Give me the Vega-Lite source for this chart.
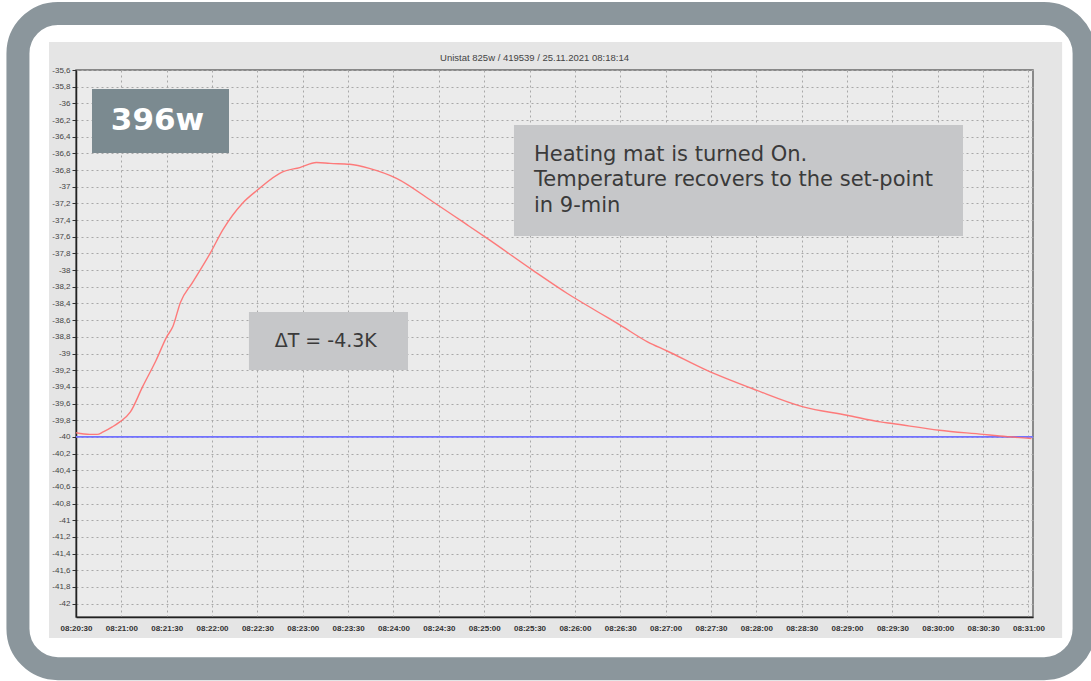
{
  "$schema": "https://vega.github.io/schema/vega-lite/v6.json",
  "width": 957,
  "height": 547,
  "autosize": "none",
  "padding": {"left": 76, "top": 70, "right": 58, "bottom": 64},
  "background": "#e5e5e5",
  "data": {"values": [{}]},
  "layer": [
    {
      "mark": {"type": "rect", "clip": false, "fillOpacity": 0, "stroke": "#ffffff", "strokeWidth": 40},
      "encoding": {
        "x": {"datum": 29979.73, "type": "quantitative"},
        "x2": {"datum": 30701.4},
        "y": {"datum": -34.76, "type": "quantitative"},
        "y2": {"datum": -42.928}
      }
    },
    {
      "mark": {"type": "rect", "clip": false, "fillOpacity": 0, "stroke": "#ffffff", "strokeWidth": 24},
      "encoding": {
        "x": {"datum": 30004.2, "type": "quantitative"},
        "x2": {"datum": 30690.2},
        "y": {"datum": -35.12, "type": "quantitative"},
        "y2": {"datum": -42.556}
      }
    },
    {
      "mark": {"type": "rect", "clip": false, "fillOpacity": 0, "stroke": "#8b969c", "strokeWidth": 23, "cornerRadius": 40},
      "encoding": {
        "x": {"datum": 29991.6, "type": "quantitative"},
        "x2": {"datum": 30696.8},
        "y": {"datum": -34.922, "type": "quantitative"},
        "y2": {"datum": -42.78}
      }
    },
    {
      "mark": {"type": "text", "clip": false, "text": "Unistat 825w / 419539 / 25.11.2021 08:18:14", "font": "Liberation Sans", "fontSize": 9.5, "color": "#444444", "align": "center", "baseline": "alphabetic"},
      "encoding": {
        "x": {"datum": 30333.3, "type": "quantitative"},
        "y": {"datum": -35.492, "type": "quantitative"}
      }
    },
    {
      "data": {"values": [
        {"sec": 30030, "setpoint": -40},
        {"sec": 30663, "setpoint": -40}
      ]},
      "mark": {"type": "line", "color": "#7272ff", "strokeWidth": 1.6},
      "encoding": {
        "x": {"field": "sec", "type": "quantitative"},
        "y": {"field": "setpoint", "type": "quantitative"}
      }
    },
    {
      "data": {"values": [
        {"sec": 30030, "temp": -39.95},
        {"sec": 30039, "temp": -39.97},
        {"sec": 30044, "temp": -39.97},
        {"sec": 30048, "temp": -39.94},
        {"sec": 30054, "temp": -39.88},
        {"sec": 30059, "temp": -39.82},
        {"sec": 30066, "temp": -39.70},
        {"sec": 30074, "temp": -39.40},
        {"sec": 30083, "temp": -39.08},
        {"sec": 30090, "temp": -38.80},
        {"sec": 30094, "temp": -38.68},
        {"sec": 30099, "temp": -38.39},
        {"sec": 30107, "temp": -38.15},
        {"sec": 30119, "temp": -37.79},
        {"sec": 30127, "temp": -37.52},
        {"sec": 30140, "temp": -37.20},
        {"sec": 30150, "temp": -37.04},
        {"sec": 30167, "temp": -36.82},
        {"sec": 30178, "temp": -36.77},
        {"sec": 30189, "temp": -36.71},
        {"sec": 30198, "temp": -36.72},
        {"sec": 30211, "temp": -36.73},
        {"sec": 30224, "temp": -36.78},
        {"sec": 30242, "temp": -36.90},
        {"sec": 30266, "temp": -37.18},
        {"sec": 30289, "temp": -37.46},
        {"sec": 30302, "temp": -37.62},
        {"sec": 30332, "temp": -38.00},
        {"sec": 30355, "temp": -38.28},
        {"sec": 30377, "temp": -38.52},
        {"sec": 30390, "temp": -38.66},
        {"sec": 30408, "temp": -38.86},
        {"sec": 30421, "temp": -38.97},
        {"sec": 30447, "temp": -39.20},
        {"sec": 30480, "temp": -39.44},
        {"sec": 30511, "temp": -39.64},
        {"sec": 30540, "temp": -39.74},
        {"sec": 30562, "temp": -39.82},
        {"sec": 30570, "temp": -39.84},
        {"sec": 30601, "temp": -39.92},
        {"sec": 30630, "temp": -39.97},
        {"sec": 30641, "temp": -39.99},
        {"sec": 30662, "temp": -40.02}
      ]},
      "mark": {"type": "line", "color": "#ff6e6e", "strokeWidth": 1.4, "interpolate": "monotone", "opacity": 0.9},
      "encoding": {
        "x": {
          "field": "sec", "type": "quantitative", "title": null,
          "scale": {"domain": [30030, 30663], "nice": false, "zero": false},
          "axis": {
            "values": [30030, 30060, 30090, 30120, 30150, 30180, 30210, 30240, 30270, 30300, 30330, 30360, 30390, 30420, 30450, 30480, 30510, 30540, 30570, 30600, 30630, 30660],
            "tickCount": 40,
            "labelExpr": "utcFormat(datum.value * 1000, '%H:%M:%S')",
            "labelFlush": false,
            "labelOverlap": false,
            "labelFont": "Liberation Sans",
            "labelFontSize": 8,
            "labelFontWeight": "bold",
            "labelColor": "#333333",
            "labelPadding": 7,
            "ticks": false,
            "domainColor": "#222222",
            "domainWidth": 1.5,
            "grid": true,
            "gridColor": "#a8a8a8",
            "gridDash": [2, 3],
            "gridWidth": 1
          }
        },
        "y": {
          "field": "temp", "type": "quantitative", "title": null,
          "scale": {"domain": [-42.16, -35.6], "nice": false, "zero": false},
          "axis": {
            "values": [-35.6, -35.8, -36, -36.2, -36.4, -36.6, -36.8, -37, -37.2, -37.4, -37.6, -37.8, -38, -38.2, -38.4, -38.6, -38.8, -39, -39.2, -39.4, -39.6, -39.8, -40, -40.2, -40.4, -40.6, -40.8, -41, -41.2, -41.4, -41.6, -41.8, -42],
            "tickCount": 40,
            "labelExpr": "'-' + replace(format(abs(datum.value), '~g'), '.', ',')",
            "labelOverlap": false,
            "labelFont": "Liberation Sans",
            "labelFontSize": 8,
            "labelColor": "#444444",
            "labelPadding": 2,
            "tickSize": 4,
            "tickColor": "#333333",
            "domainColor": "#222222",
            "domainWidth": 1.5,
            "grid": true,
            "gridColor": "#a8a8a8",
            "gridDash": [2, 3],
            "gridWidth": 1
          }
        }
      }
    },
    {
      "mark": {"type": "rect", "color": "#7b8a90"},
      "encoding": {
        "x": {"datum": 30040.58, "type": "quantitative"},
        "x2": {"datum": 30131.2},
        "y": {"datum": -35.828, "type": "quantitative"},
        "y2": {"datum": -36.595}
      }
    },
    {
      "mark": {"type": "text", "text": "396w", "font": "DejaVu Sans", "fontSize": 31, "fontWeight": "bold", "color": "#ffffff", "align": "center", "baseline": "middle"},
      "encoding": {
        "x": {"datum": 30083.9, "type": "quantitative"},
        "y": {"datum": -36.212, "type": "quantitative"}
      }
    },
    {
      "mark": {"type": "rect", "color": "#c6c7c9"},
      "encoding": {
        "x": {"datum": 30319.7, "type": "quantitative"},
        "x2": {"datum": 30616.7},
        "y": {"datum": -36.26, "type": "quantitative"},
        "y2": {"datum": -37.591}
      }
    },
    {
      "mark": {"type": "text", "text": ["Heating mat is turned On.", "Temperature recovers to the set-point", "in 9-min"], "lineHeight": 25.5, "font": "DejaVu Sans", "fontSize": 21, "color": "#3a3a3a", "align": "left", "baseline": "middle"},
      "encoding": {
        "x": {"datum": 30332.95, "type": "quantitative"},
        "y": {"datum": -36.619, "type": "quantitative"}
      }
    },
    {
      "mark": {"type": "rect", "color": "#c6c7c9"},
      "encoding": {
        "x": {"datum": 30144.4, "type": "quantitative"},
        "x2": {"datum": 30249.6},
        "y": {"datum": -38.502, "type": "quantitative"},
        "y2": {"datum": -39.198}
      }
    },
    {
      "mark": {"type": "text", "text": "ΔT = -4.3K", "font": "DejaVu Sans", "fontSize": 19, "color": "#3a3a3a", "align": "center", "baseline": "middle"},
      "encoding": {
        "x": {"datum": 30195.2, "type": "quantitative"},
        "y": {"datum": -38.85, "type": "quantitative"}
      }
    }
  ],
  "config": {
    "view": {"fill": "#ebebeb", "stroke": "#6a6a6a", "strokeWidth": 1.5}
  }
}
